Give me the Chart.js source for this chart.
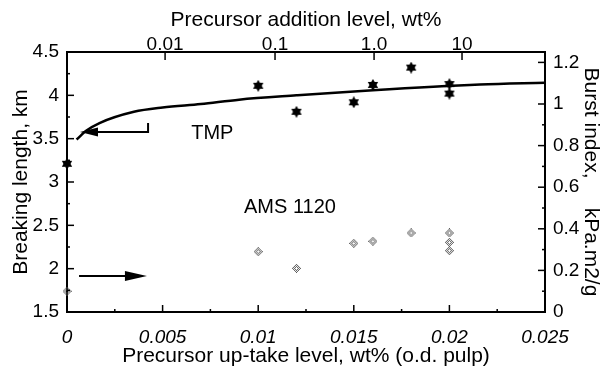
<!DOCTYPE html>
<html>
<head>
<meta charset="utf-8">
<script src="https://cdn.jsdelivr.net/npm/chart.js@4.4.0/dist/chart.umd.min.js"></script>
<style>
  html, body { margin: 0; padding: 0; background: #fff; }
</style>
</head>
<body>
<canvas id="myChart" width="605" height="377"></canvas>
<script>
// TMP breaking length (km) against precursor up-take (wt%)
var tmpUptake = [0, 0.010, 0.012, 0.015, 0.016, 0.018, 0.020, 0.020];
var tmpBreaking = [3.21, 4.11, 3.81, 3.92, 4.12, 4.32, 4.13, 4.02];

// smooth curve through the TMP results
var fitUptake = [0.0005, 0.001, 0.0017, 0.0035, 0.005, 0.007, 0.009, 0.012, 0.016, 0.0216, 0.025];
var fitBreaking = [3.49, 3.59, 3.68, 3.81, 3.86, 3.90, 3.95, 4.00, 4.06, 4.125, 4.145];

// AMS 1120 burst index (kPa.m2/g)
var amsUptake = [0, 0.010, 0.012, 0.015, 0.016, 0.018, 0.020, 0.020, 0.020];
var amsBurst = [0.10, 0.29, 0.21, 0.33, 0.34, 0.38, 0.38, 0.335, 0.295];

// tick labels
var bottomTicks = [0, 0.005, 0.01, 0.015, 0.02, 0.025];
var leftTicks = [1.5, 2, 2.5, 3, 3.5, 4, 4.5];
var rightTicks = [0, 0.2, 0.4, 0.6, 0.8, 1, 1.2];
// top axis (addition level) sits at the matching up-take positions
var topTickAt = [0.00513, 0.01088, 0.01606, 0.02066];
var topTickLabels = ['0.01', '0.1', '1.0', '10'];

var FONT = 'Arial, "Liberation Sans", sans-serif';

// filled six point star for the TMP points
function makeStar(size) {
  var c = document.createElement('canvas');
  c.width = size; c.height = size;
  var g = c.getContext('2d');
  var r = size / 2, cx = size / 2, cy = size / 2;
  g.fillStyle = '#000';
  for (var k = 0; k < 2; k++) {
    g.beginPath();
    for (var i = 0; i < 3; i++) {
      var a = -Math.PI / 2 + k * Math.PI / 3 + i * 2 * Math.PI / 3;
      var px = cx + r * Math.cos(a), py = cy + r * Math.sin(a);
      if (i === 0) g.moveTo(px, py); else g.lineTo(px, py);
    }
    g.closePath();
    g.fill();
  }
  return c;
}

// speckled grey diamond for the AMS points
function makeSpeckle() {
  var c = document.createElement('canvas');
  c.width = 9; c.height = 9;
  var g = c.getContext('2d');
  g.fillStyle = '#555';
  for (var dx = -4; dx <= 4; dx++) {
    for (var dy = -4; dy <= 4; dy++) {
      var d = Math.abs(dx) + Math.abs(dy);
      if (d <= 4 && d >= 1 && (dx + dy + 8) % 2 === 0) g.fillRect(dx + 4, dy + 4, 1, 1);
    }
  }
  return c;
}

function pts(xs, ys) {
  return xs.map(function(x, i) { return { x: x, y: ys[i] }; });
}

function fixTicks(list) {
  return function(scale) {
    scale.ticks = list.map(function(v) { return { value: v }; });
  };
}

// inward tick marks drawn from the chart's scales
var innerTicks = {
  id: 'innerTicks',
  afterDatasetsDraw: function(chart) {
    var ctx = chart.ctx, a = chart.chartArea, s = chart.scales;
    ctx.save();
    ctx.strokeStyle = '#000';
    ctx.lineWidth = 1.5;
    function seg(x1, y1, x2, y2) {
      ctx.beginPath(); ctx.moveTo(x1, y1); ctx.lineTo(x2, y2); ctx.stroke();
    }
    function each(scale, fn) {
      var t = scale.ticks;
      for (var i = 0; i < t.length; i++) {
        fn(scale.getPixelForValue(t[i].value), 7);
        if (i < t.length - 1) fn(scale.getPixelForValue((t[i].value + t[i + 1].value) / 2), 3);
      }
    }
    each(s.x, function(p, l) { seg(p, a.bottom, p, a.bottom - l); });
    each(s.y, function(p, l) { seg(a.left, p, a.left + l, p); });
    each(s.y2, function(p, l) { seg(a.right, p, a.right - l, p); });
    s.x2.ticks.forEach(function(t) {
      var p = s.x2.getPixelForValue(t.value);
      seg(p, a.top, p, a.top + 8);
    });
    ctx.restore();
  }
};

// arrows and series labels
var notes = {
  id: 'notes',
  afterDatasetsDraw: function(chart) {
    var ctx = chart.ctx, s = chart.scales;
    ctx.save();
    ctx.strokeStyle = '#000';
    ctx.fillStyle = '#000';
    ctx.lineWidth = 2;

    // TMP -> left axis
    var yA = s.y.getPixelForValue(3.577);
    var yTop = s.y.getPixelForValue(3.68);
    var xB = s.x.getPixelForValue(0.00424);
    var xT = s.x.getPixelForValue(0.00068);
    ctx.beginPath();
    ctx.moveTo(xB, yTop); ctx.lineTo(xB, yA); ctx.lineTo(xT + 14, yA);
    ctx.stroke();
    ctx.beginPath();
    ctx.moveTo(xT, yA); ctx.lineTo(xT + 18, yA - 4.5); ctx.lineTo(xT + 18, yA + 4.5);
    ctx.closePath(); ctx.fill();

    // AMS 1120 -> right axis
    var yB = s.y2.getPixelForValue(0.173);
    var x0 = s.x.getPixelForValue(0.00063);
    var x1 = s.x.getPixelForValue(0.00418);
    ctx.beginPath();
    ctx.moveTo(x0, yB); ctx.lineTo(x1 - 16, yB);
    ctx.stroke();
    ctx.beginPath();
    ctx.moveTo(x1, yB); ctx.lineTo(x1 - 22, yB - 5); ctx.lineTo(x1 - 22, yB + 5);
    ctx.closePath(); ctx.fill();

    ctx.font = '20px ' + FONT;
    ctx.textAlign = 'center';
    ctx.textBaseline = 'middle';
    ctx.fillText('TMP', s.x.getPixelForValue(0.0076), s.y.getPixelForValue(3.56));
    ctx.fillText('AMS 1120', s.x.getPixelForValue(0.01166), s.y.getPixelForValue(2.71));
    ctx.restore();
  }
};

var tickFont = { family: FONT, size: 19 };
var titleFont = { family: FONT, size: 21 };
var border = { display: true, color: '#000', width: 2 };
var grid = { display: true, drawOnChartArea: false, drawTicks: false };

var ctx = document.getElementById('myChart');
var myChart = new Chart(ctx, {
  type: 'scatter',
  data: {
    datasets: [
      {
        type: 'line',
        label: 'TMP fit',
        data: pts(fitUptake, fitBreaking),
        xAxisID: 'x', yAxisID: 'y',
        borderColor: '#000',
        borderWidth: 2.5,
        pointRadius: 0,
        fill: false,
        cubicInterpolationMode: 'monotone',
        clip: false
      },
      {
        label: 'TMP',
        data: pts(tmpUptake, tmpBreaking),
        xAxisID: 'x', yAxisID: 'y',
        pointStyle: makeStar(12),
        clip: false
      },
      {
        label: 'AMS 1120',
        data: pts(amsUptake, amsBurst),
        xAxisID: 'x', yAxisID: 'y2',
        pointStyle: makeSpeckle(),
        clip: false
      }
    ]
  },
  options: {
    responsive: false,
    animation: false,
    devicePixelRatio: 1,
    layout: { padding: 0 },
    plugins: { legend: { display: false }, tooltip: { enabled: false } },
    scales: {
      x: {
        type: 'linear', position: 'bottom', min: 0, max: 0.025,
        afterBuildTicks: fixTicks(bottomTicks),
        afterFit: function(sc) { sc.height = 65; },
        border: border, grid: grid,
        ticks: { font: { family: FONT, size: 19, style: 'italic' }, color: '#000', padding: 14,
                 maxRotation: 0, autoSkip: false,
                 callback: function(v) { return String(v); } },
        title: { display: true, text: 'Precursor up-take level, wt% (o.d. pulp)', font: titleFont,
                 color: '#000', padding: { top: 0, bottom: 8 } }
      },
      x2: {
        type: 'linear', position: 'top', min: 0, max: 0.025,
        afterBuildTicks: fixTicks(topTickAt),
        afterFit: function(sc) { sc.height = 52; },
        border: border, grid: grid,
        ticks: { font: { family: FONT, size: 19, lineHeight: 1 }, color: '#000', padding: -2,
                 maxRotation: 0, autoSkip: false,
                 callback: function(v, i) { return topTickLabels[i]; } },
        title: { display: true, text: 'Precursor addition level, wt%', font: titleFont,
                 color: '#000', padding: { top: 8, bottom: 0 } }
      },
      y: {
        type: 'linear', position: 'left', min: 1.5, max: 4.5,
        afterBuildTicks: fixTicks(leftTicks),
        afterFit: function(sc) { sc.width = 67; },
        border: border, grid: grid,
        ticks: { font: tickFont, color: '#000', padding: 8, autoSkip: false,
                 callback: function(v) { return String(v); } },
        title: { display: true, text: 'Breaking length, km', font: titleFont,
                 color: '#000', padding: { top: 9, bottom: 0 } }
      },
      y2: {
        type: 'linear', position: 'right', min: 0, max: 1.25,
        afterBuildTicks: fixTicks(rightTicks),
        afterFit: function(sc) { sc.width = 60; },
        border: border, grid: grid,
        ticks: { font: tickFont, color: '#000', padding: 8, autoSkip: false,
                 callback: function(v) { return String(v); } },
        title: { display: true, text: 'Burst index,     kPa.m2/g', font: titleFont,
                 color: '#000', padding: { top: 2, bottom: 0 } }
      }
    }
  },
  plugins: [innerTicks, notes]
});
</script>
</body>
</html>
